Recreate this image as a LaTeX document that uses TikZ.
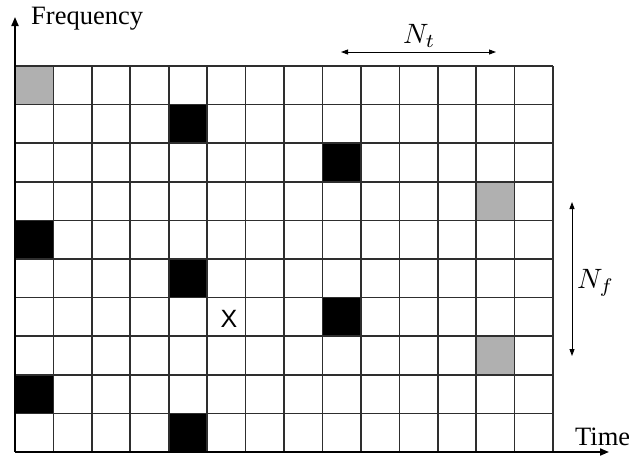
\documentclass[tikz,border=0pt]{standalone}
\usepackage{fontspec}
\setmainfont{Liberation Serif}
\newfontfamily\sansx{Liberation Sans}
\usetikzlibrary{arrows.meta}
\tikzset{
  gridline/.style={draw=black!82, line width=1.6pt},
  axisline/.style={draw=black, line width=1.9pt, -{Triangle[length=9pt,width=7pt]}},
  dimarrow/.style={draw=black, line width=0.9pt, {Triangle[length=7pt,width=5pt]}-{Triangle[length=7pt,width=5pt]}},
  lbl/.style={inner sep=0pt, font=\fontsize{26.5}{31}\selectfont},
  mlbl/.style={inner sep=0pt, font=\fontsize{10}{12}\selectfont},
  graycell/.style={fill=black!31},
  blackcell/.style={fill=black},
}
\begin{document}
\begin{tikzpicture}[x=1pt,y=-1pt]
\useasboundingbox (0,0) rectangle (629,459);
\def\cw{38.43}
\def\rh{38.6}
% filled cells
\foreach \c/\r in {0/0,12/3,12/7}
  \fill[graycell] (15+\cw*\c,66+\rh*\r) rectangle ++(\cw,\rh);
\foreach \c/\r in {4/1,8/2,0/4,4/5,8/6,0/8,4/9}
  \fill[blackcell] (15+\cw*\c,66+\rh*\r) rectangle ++(\cw,\rh);
% grid
\foreach \i in {1,...,14}
  \draw[gridline] (15+\cw*\i,66) -- (15+\cw*\i,452);
\foreach \j in {0,...,9}
  \draw[gridline] (15,66+\rh*\j) -- (553,66+\rh*\j);
% axes
\coordinate (origin) at (15,452);
\coordinate (ytip) at (15,17);
\coordinate (xtip) at (609,452);
\draw[axisline] (origin) -- (ytip);
\draw[axisline] (origin) -- (xtip);
\node[lbl, anchor=base west] (freq) at (31,24) {Frequency};
\node[lbl, anchor=base west] (time) at (575,445) {Time};
% dimension arrows
\coordinate (ntl) at (341,52);
\coordinate (ntr) at (496,52);
\draw[dimarrow] (ntl) -- (ntr);
\node[mlbl, anchor=base west] (nt) at (403,43) {\scalebox{2.8}{$N_t$}};
\coordinate (nft) at (572,202);
\coordinate (nfb) at (572,356);
\draw[dimarrow] (nft) -- (nfb);
\node[mlbl, anchor=base west] (nf) at (577,288) {\scalebox{2.8}{$N_f$}};
% X mark
\node[inner sep=0pt, anchor=base, font=\sansx\fontsize{25}{30}\selectfont] (x) at (229,327) {X};
\end{tikzpicture}
\end{document}
